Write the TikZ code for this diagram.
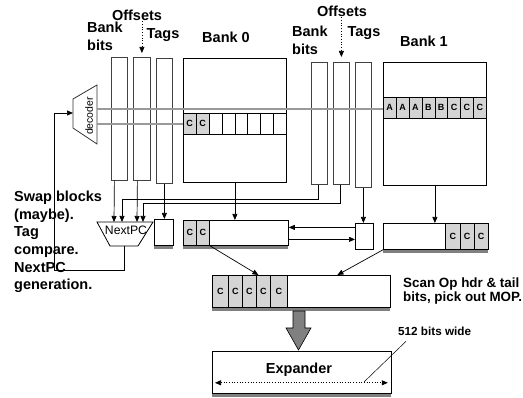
\documentclass[tikz,border=0pt]{standalone}
\usepackage{fontspec}
\setmainfont{Liberation Sans}
\usetikzlibrary{arrows.meta}
\tikzset{lbl/.style={inner sep=0pt,align=left,font=\fontsize{14.5}{17.6}\selectfont\bfseries},
col/.style={draw=black!75,line width=.8pt,inner sep=0pt,anchor=north west},
box/.style={draw,line width=.8pt,inner sep=0pt,anchor=north west},
cell/.style={draw,line width=.6pt,fill=black!17,inner sep=0pt,anchor=north west,minimum width=12.875,minimum height=21,font=\fontsize{9}{10}\selectfont\bfseries},
wcell/.style={cell,fill=white},
gline/.style={black!40,line width=1.2pt},
wire/.style={line width=.7pt,-{Triangle[length=6pt,width=5pt]}},
dotwire/.style={line width=.7pt,dotted,-{Triangle[length=6pt,width=5pt]}},
shade/.style={fill=black!50}}

\begin{document}
\begin{tikzpicture}[x=1pt,y=-1pt]
\path[use as bounding box] (0,0) rectangle (523,398);
% bank 0 side
\node[col,minimum width=16,minimum height=123] (bb0) at (111,57) {};
\node[col,minimum width=17,minimum height=123] (ofs0) at (133,57) {};
\node[col,minimum width=16,minimum height=125] (tag0) at (156,58) {};
\node[box,minimum width=103,minimum height=124] (bank0) at (183,58) {};
\node[cell] (r0a) at (183,113) {C};
\node[cell] (r0b) at (195.875,113) {C};
\node[wcell] (r0c) at (208.75,113) {};
\node[wcell] (r0d) at (221.625,113) {};
\node[wcell] (r0e) at (234.5,113) {};
\node[wcell] (r0f) at (247.375,113) {};
\node[wcell] (r0g) at (260.25,113) {};
\node[wcell] (r0h) at (273.125,113) {};
\node[lbl,anchor=north west] (bbl0) at (87,22) {Bank\\bits};
\node[lbl,anchor=base] (ofl0) at (137,21) {Offsets};
\node[lbl,anchor=base] (tgl0) at (163,39) {Tags};
\node[lbl,anchor=base] (bkl0) at (226,43) {Bank 0};
\draw[dotwire] (ofs0.north |- ofl0.south) -- ([yshift=4]ofs0.north);
% bank 1 side
\node[col,minimum width=16,minimum height=122] (bb1) at (311,62) {};
\node[col,minimum width=16,minimum height=122] (ofs1) at (333,62) {};
\node[col,minimum width=16,minimum height=125] (tag1) at (355,62) {};
\node[box,minimum width=103,minimum height=123] (bank1) at (383,62) {};
\node[cell] (r1a) at (383,97) {A};
\node[cell] (r1b) at (395.875,97) {A};
\node[cell] (r1c) at (408.75,97) {A};
\node[cell] (r1d) at (421.625,97) {B};
\node[cell] (r1e) at (434.5,97) {B};
\node[cell] (r1f) at (447.375,97) {C};
\node[cell] (r1g) at (460.25,97) {C};
\node[cell] (r1h) at (473.125,97) {C};
\node[lbl,anchor=north west] (bbl1) at (292,26) {Bank\\bits};
\node[lbl,anchor=base] (ofl1) at (342,17) {Offsets};
\node[lbl,anchor=base] (tgl1) at (364,37) {Tags};
\node[lbl,anchor=base] (bkl1) at (424,47) {Bank 1};
\draw[dotwire] (ofs1.north |- ofl1.south) -- ([yshift=5]ofs1.north);
% decoder
\draw[black!80,line width=.8pt] (73,99) -- (97,85) -- (97,144) -- (73,128) -- cycle;
\node[rotate=90,inner sep=0pt,font=\fontsize{10.5}{11}\selectfont] (dec) at (89,116) {decoder};
\coordinate (decin) at (73,113);
\coordinate (dout1) at (97,109);
\coordinate (dout2) at (97,124);
\draw[gline] (dout1) -- (dout1 -| r1a.west);
\draw[gline] (dout2) -- (dout2 -| r0a.west);
% lower row
\draw[line width=.8pt] (97,222) -- (153,222) -- (138,246) -- (110,246) -- cycle;
\coordinate (npctop) at (125,222);
\coordinate (npcbot) at (124,246);
\node[inner sep=0pt,font=\fontsize{12.2}{13}\selectfont] (npc) at (126,230.5) {NextPC};
\fill[shade] (154,245.4) rectangle (173,249);
\node[box,minimum width=19,minimum height=26] (cmp0) at (154,219) {};
\fill[shade] (183,245.4) rectangle (288,249);
\node[box,minimum width=105,minimum height=25] (buf0) at (183,220) {};
\node[cell,minimum width=13,minimum height=25] (c0a) at (183,220) {C};
\node[cell,minimum width=13,minimum height=25] (c0b) at (196,220) {C};
\node[box,minimum width=18,minimum height=26] (cmp1) at (355,223) {};
\fill[shade] (383,249.4) rectangle (488,253);
\node[box,minimum width=105,minimum height=26] (buf1) at (383,223) {};
\node[cell,minimum width=14.2,minimum height=26] (c1a) at (445.4,223) {C};
\node[cell,minimum width=14.2,minimum height=26] (c1b) at (459.6,223) {C};
\node[cell,minimum width=14.2,minimum height=26] (c1c) at (473.8,223) {C};
\draw[wire] ([xshift=-5]bb0.south) -- ([xshift=-11]npctop);
\draw[wire] ([xshift=-4.5]ofs0.south) -- ([xshift=12]npctop);
\draw[wire] ([xshift=-1]bb1.south) -- ++(0,15) -| ([xshift=-3]npctop);
\draw[wire] ([xshift=-1]ofs1.south) -- ++(0,19) -| ([xshift=18]npctop);
\draw[wire] (tag0.south) -- (tag0.south |- cmp0.north);
\draw[wire] (bank0.south) -- (bank0.south |- buf0.north);
\draw[wire] (tag1.south) -- (tag1.south |- cmp1.north);
\draw[wire] (bank1.south) -- (bank1.south |- buf1.north);
\coordinate (xa) at ([yshift=9]cmp1.west);
\coordinate (xb) at ([yshift=-3]cmp1.west);
\draw[wire] (xa) -- (xa -| buf0.east);
\draw[wire] (xb -| buf0.east) -- (xb);
\draw[wire] (npcbot) -- ++(0,24) -| (54,113) -- (decin);
% scan and expander
\fill[shade] (212,307.4) rectangle (390,311);
\node[box,minimum width=178,minimum height=32] (scan) at (212,275) {};
\node[cell,minimum width=16,minimum height=32] (s1) at (212,275) {C};
\node[cell,minimum width=14,minimum height=32] (s2) at (228,275) {C};
\node[cell,minimum width=14,minimum height=32] (s3) at (242,275) {C};
\node[cell,minimum width=14,minimum height=32] (s4) at (256,275) {C};
\node[cell,minimum width=17,minimum height=32] (s5) at (270,275) {C};
\draw[wire] (c0b.south east) -- ([xshift=-43]scan.north);
\draw[wire] (buf1.south west) -- ([xshift=36]scan.north);
\draw[line width=.6pt,fill=black!50] (293,311) -- (305,311) -- (305,328) -- (311,328) -- (298.5,350) -- (286,328) -- (293,328) -- cycle;
\fill[shade] (212,393.4) rectangle (391,397);
\node[box,minimum width=179,minimum height=42] (expand) at (212,351) {};
\node[lbl,anchor=base] (exl) at (299,374) {Expander};
\coordinate (ea) at ([xshift=3,yshift=11]expand.south west);
\coordinate (eb) at ([xshift=-4,yshift=11]expand.south east);
\draw[line width=.7pt,dotted,{Triangle[length=6pt,width=5pt]}-{Triangle[length=6pt,width=5pt]}] (ea) -- (eb);
\node[anchor=base west,inner sep=0pt,font=\fontsize{11.7}{13}\selectfont\bfseries] (wide) at (398,336) {512 bits wide};
\coordinate (lead) at (364,382);
\draw[line width=.5pt] ([xshift=8,yshift=-5]wide.south west) -- (lead);
% notes
\node[lbl,anchor=north west] (note) at (14,191) {Swap blocks\\(maybe).\\Tag\\compare.\\NextPC\\generation.};
\node[lbl,anchor=north west,font=\fontsize{13.4}{13.8}\selectfont\bfseries] (scannote) at (403,278) {Scan Op hdr \& tail\\bits, pick out MOP.};
\end{tikzpicture}
\end{document}
